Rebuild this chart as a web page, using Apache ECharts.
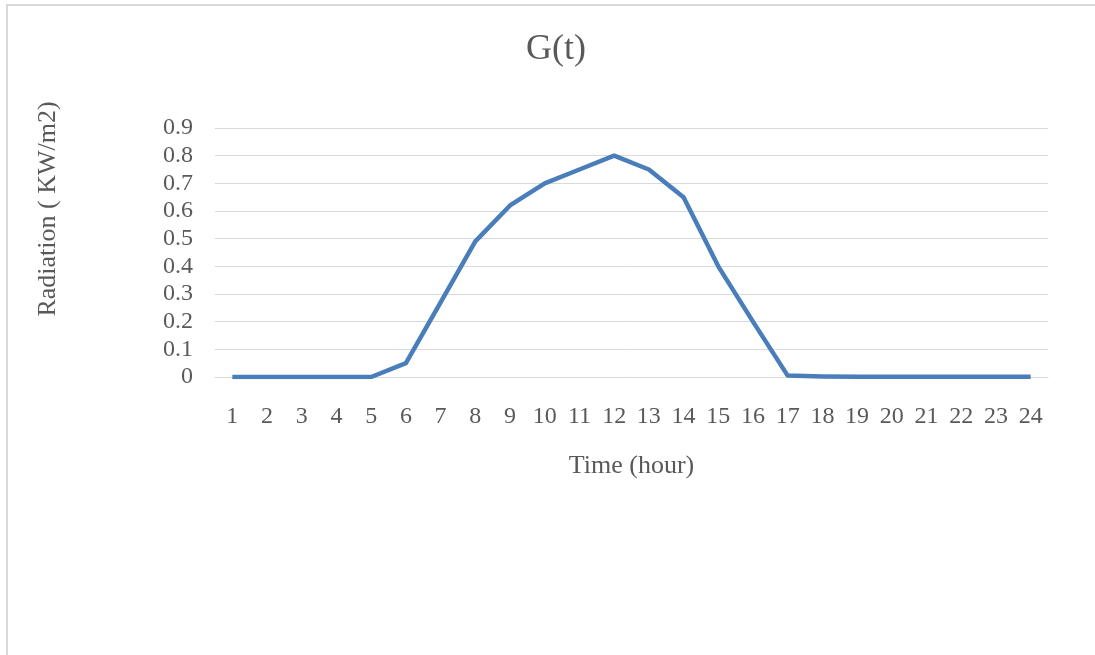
<!DOCTYPE html>
<html>
<head>
<meta charset="utf-8">
<script src="https://cdn.jsdelivr.net/npm/echarts@6/dist/echarts.min.js"></script>
<style>html,body{margin:0;padding:0;background:#fff;}#c{width:1095px;height:655px;}</style>
</head>
<body>
<div id="c"></div>
<script>
const hours = ['1','2','3','4','5','6','7','8','9','10','11','12','13','14','15','16','17','18','19','20','21','22','23','24'];
const radiation = [0,0,0,0,0,0.05,0.27,0.49,0.62,0.70,0.75,0.80,0.75,0.65,0.40,0.20,0.005,0.002,0.001,0.001,0.001,0.001,0.001,0.001];
const chartTitle = 'G(t)';
const xName = 'Time (hour)';
const yName = 'Radiation ( KW/m2)';

const font = '"Liberation Serif", "Times New Roman", serif';
const txt = '#595959';
const chart = echarts.init(document.getElementById('c'), null, {renderer:'canvas'});
chart.setOption({
  animation:false,
  backgroundColor:'#fff',
  graphic:[
    {type:'rect', shape:{x:7, y:5, width:1200, height:800}, style:{fill:'none', stroke:'#d9d9d9', lineWidth:2}, silent:true},
    {type:'text', x:48, y:209, rotation:Math.PI/2, style:{text:yName, fontFamily:font, fontSize:26, fill:txt, align:'center', verticalAlign:'middle'}, silent:true}
  ],
  title:{text:chartTitle, left:551, top:27, textAlign:'center', textStyle:{fontFamily:font, fontSize:36, fontWeight:'normal', color:txt}},
  grid:{left:215, right:47, top:128, bottom:278, containLabel:false},
  xAxis:{type:'category', data:hours, boundaryGap:true,
    name:xName, nameLocation:'middle', nameGap:76,
    nameTextStyle:{fontFamily:font, fontSize:26, color:txt},
    axisLine:{show:true, lineStyle:{color:'#d9d9d9', width:1}}, axisTick:{show:false},
    axisLabel:{fontFamily:font, fontSize:24, color:txt, margin:28, interval:0}},
  yAxis:{type:'value', min:0, max:0.9, interval:0.1,
    axisLine:{show:false}, axisTick:{show:false},
    axisLabel:{fontFamily:font, fontSize:24, color:txt, margin:22, formatter:v=>String(Math.round(v*10)/10)},
    splitLine:{lineStyle:{color:'#d9d9d9', width:1}}},
  series:[{type:'line', data:radiation, symbol:'none', lineStyle:{color:'#4a7ebb', width:4.5, join:'round'}}]
});
</script>
</body>
</html>
